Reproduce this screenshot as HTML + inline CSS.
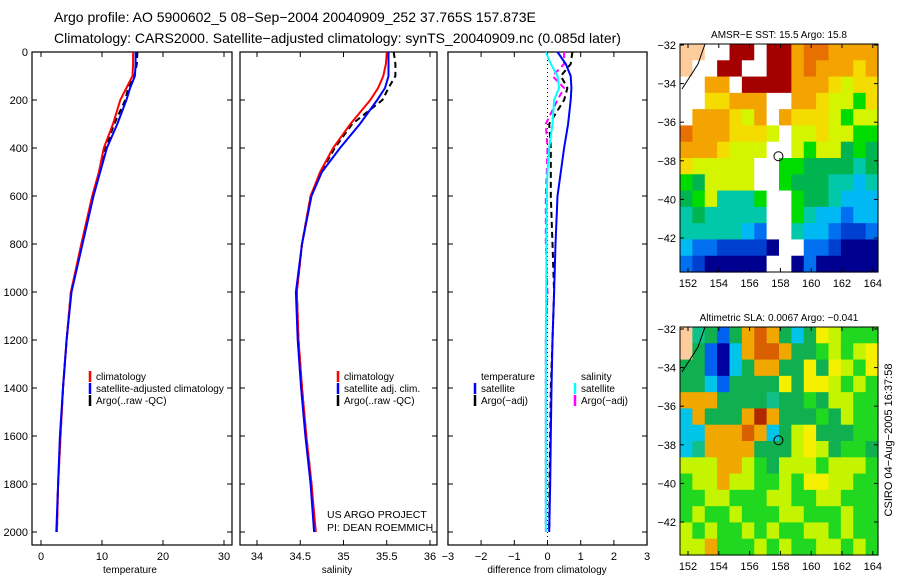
<!DOCTYPE html>
<html><head><meta charset="utf-8"><style>
body{margin:0;background:#fff;}
svg{display:block;font-family:"Liberation Sans",sans-serif;}
</style></head><body>
<svg id="fig" width="900" height="580" viewBox="0 0 900 580">
<text x="54" y="22" font-size="14">Argo profile: AO 5900602_5 08−Sep−2004 20040909_252 37.765S 157.873E</text>
<text x="54" y="43" font-size="14">Climatology: CARS2000. Satellite−adjusted climatology: synTS_20040909.nc (0.085d later)</text>
<text transform="translate(892,440) rotate(-90)" text-anchor="middle" font-size="11">CSIRO 04−Aug−2005 16:37:58</text>
</svg>
<script>
// ---- data ----
const depths = [0,50,100,150,200,300,400,500,600,800,1000,1200,1400,1600,1800,2000];
const tempClim = [15.1,15.1,15.0,14.0,13.0,11.8,10.3,9.5,8.4,6.6,4.9,4.2,3.6,3.2,2.8,2.6];
const tempSat = [15.5,15.5,15.4,14.6,14.0,12.5,10.8,9.7,8.6,6.8,5.0,4.2,3.6,3.1,2.8,2.5];
const tempArgo = [15.8,15.7,15.3,14.3,13.8,12.0,10.6,9.6,8.5,6.7,4.9,4.2,3.6,3.2,2.8,2.6];
const salClim = [35.50,35.49,35.46,35.40,35.31,35.08,34.88,34.73,34.62,34.52,34.46,34.48,34.52,34.57,34.63,34.68];
const salSat = [35.52,35.52,35.52,35.48,35.39,35.19,34.96,34.75,34.63,34.52,34.45,34.47,34.51,34.56,34.62,34.66];
const salArgo = [35.58,35.60,35.60,35.52,35.45,35.10,34.90,34.74,34.62,34.52,34.46,34.48,34.52,34.57,34.63,34.67];
const dTempSat = [0.3,0.55,0.7,0.72,0.7,0.62,0.5,0.4,0.3,0.24,0.2,0.15,0.12,0.1,0.08,0.05];
const dSalSat = [-0.05,0.1,0.3,0.35,0.2,0.15,0.05,0.0,-0.02,-0.03,-0.04,-0.05,-0.05,-0.05,-0.05,-0.05];
const dTempArgo = [0.75,0.7,0.4,0.6,0.5,0.05,0.1,0.1,0.1,0.15,0.2,0.15,0.1,0.08,0.06,0.05];
const dSalArgo = [0.5,0.5,0.15,0.5,0.3,-0.05,0.0,-0.02,-0.05,-0.05,0.0,-0.05,-0.05,-0.05,-0.05,-0.05];
const depthTicks = [0,200,400,600,800,1000,1200,1400,1600,1800,2000];
const tempTicks = [0,10,20,30];
const salTicks = [34,34.5,35,35.5,36];
const diffTicks = [-3,-2,-1,0,1,2,3];
const sstGrid = [
"LLWWRRWRRoOOoooo","LWWRRWWRRoOoooYo","WWooWRRRRoooYyYY","WWYYoooWWooYyyGY",
"WoooYyoWoYYYyGyy","OoooYYYyWyyYyyGG","oooYyyyWWyGyygGg","YyyyyyWWGGggggTg",
"GgyyyyWWGgggTTCT","gGyTTTGWWGggTCCC","TgTTTTTWWGTCCBCC","TTTTTCBWWTCCBbbB",
"CBBbbbbNWWBBbNNN","BbNNNNNWWNBNNNNN"];
const slaGrid = [
"LTgBgOROgCgYyGGG","LgBNCORROggGyGyY","ggBNCgOOggYgYyGY","ggCBggggYgYYyGyG",
"OOOggggTggGgyyGG","COgggODOgggGgyGG","CCOOOROCgyYgggGG","CTOOOOgggyYygGGg",
"yyyOOyGgyyyGyyyG","GyyOyyGGyGYYyyGG","GGyyGGGyyGGyyGGG","GyGGyGGGyyGGGyGG",
"yGyGGyGyGGyyGyGG","yyOGGGyGyGGyyGyG"];
const lonTicks = [152,154,156,158,160,162,164];
const latTicks = [-32,-34,-36,-38,-40,-42];
const argoLon = 157.873, argoLat = -37.765;

const NS="http://www.w3.org/2000/svg";
const svg=document.getElementById('fig');
function mk(tag,attrs,parent){const e=document.createElementNS(NS,tag);for(const k in attrs)e.setAttribute(k,attrs[k]);(parent||svg).appendChild(e);return e;}
function txt(x,y,s,size,anchor,parent){const t=mk('text',{x:x,y:y,'font-size':size,'text-anchor':anchor||'start'},parent);t.textContent=s;return t;}

const Y0=52, PXM=0.24;
const yD=d=>Y0+d*PXM;
const panels=[
 {name:'temperature',x0:32,x1:232,xs:v=>41+6.1*v,ticks:tempTicks,lbl:'temperature',lx:130},
 {name:'salinity',x0:240,x1:437,xs:v=>257+86.5*(v-34),ticks:salTicks,lbl:'salinity',lx:337},
 {name:'difference',x0:448,x1:647,xs:v=>547.5+33.2*v,ticks:diffTicks,lbl:'difference from climatology',lx:547}];
const TOP=52,BOT=545;
panels.forEach((p,i)=>{
 const g=mk('g',{});
 
 
 const fr=mk('rect',{x:p.x0,y:TOP,width:p.x1-p.x0,height:BOT-TOP,fill:'none',stroke:'#000','stroke-width':1.2},g);
 
 
 depthTicks.forEach(d=>{
  mk('line',{x1:p.x0,x2:p.x0+5,y1:yD(d),y2:yD(d),stroke:'#000'},g);
  mk('line',{x1:p.x1,x2:p.x1-5,y1:yD(d),y2:yD(d),stroke:'#000'},g);
  if(i===0){const t=txt(p.x0-4,yD(d)+4,String(d),11,'end',g);
   
   }
 });
 p.ticks.forEach(v=>{const x=p.xs(v);
  mk('line',{x1:x,x2:x,y1:BOT,y2:BOT-5,stroke:'#000'},g);
  mk('line',{x1:x,x2:x,y1:TOP,y2:TOP+5,stroke:'#000'},g);
  const t=txt(x,BOT+15,String(v).replace('-','−'),11,'middle',g);
  
  });
 const al=txt(p.lx,BOT+28,p.lbl,10,'middle',g);
 
 
});
function line(p,vals,color,dash,name,w){
 const pts=vals.map((v,k)=>p.xs(v).toFixed(1)+','+yD(depths[k]).toFixed(1)).join(' ');
 const a={points:pts,fill:'none',stroke:color,'stroke-width':w||2};
 if(dash)a['stroke-dasharray']=dash;
 const e=mk('polyline',a);
 
 
}
line(panels[0],tempArgo,'#000','6,4','temp-argo-line');
line(panels[0],tempClim,'#f00',null,'temp-climatology-line');
line(panels[0],tempSat,'#00f',null,'temp-satellite-line');
line(panels[1],salArgo,'#000','6,4','sal-argo-line');
line(panels[1],salClim,'#f00',null,'sal-climatology-line');
line(panels[1],salSat,'#00f',null,'sal-satellite-line');
const z=mk('line',{x1:547.5,x2:547.5,y1:TOP,y2:BOT,stroke:'#000','stroke-dasharray':'1,3'});


line(panels[2],dTempArgo,'#000','6,4','diff-temp-argo-line');
line(panels[2],dSalArgo,'#f0f','6,4','diff-sal-argo-line');
line(panels[2],dSalSat,'#0ff',null,'diff-sal-satellite-line');
line(panels[2],dTempSat,'#00f',null,'diff-temp-satellite-line');

function legend(x,y,items,name){
 const g=mk('g',{});
 
 
 items.forEach((it,k)=>{const yy=y+k*12;
  if(it[1])mk('line',{x1:x,x2:x,y1:yy-9,y2:yy+2,stroke:it[1],'stroke-width':2.5},g);
  txt(x+6,yy,it[0],10,'start',g);});
}
legend(90,380,[['climatology','#f00'],['satellite-adjusted climatology','#00f'],['Argo(..raw -QC)','#000']],'temp-legend');
legend(338,380,[['climatology','#f00'],['satellite adj. clim.','#00f'],['Argo(..raw -QC)','#000']],'sal-legend');
legend(475,380,[['temperature',null],['satellite','#00f'],['Argo(−adj)','#000']],'diff-temp-legend');
legend(575,380,[['salinity',null],['satellite','#0ff'],['Argo(−adj)','#f0f']],'diff-sal-legend');
txt(327,518,'US ARGO PROJECT',10.5);
txt(327,531,'PI: DEAN ROEMMICH',10.5);

// maps
const sstCol={L:'#fccc9c',W:'#ffffff',R:'#a40000',O:'#e87000',o:'#f4a400',Y:'#f4dc00',y:'#d4f400',G:'#00dc00',g:'#00b450',T:'#00c8a8',C:'#00b8f4',B:'#0070f0',b:'#0040d0',N:'#000090'};
const slaCol={L:'#fccc9c',T:'#10c088',g:'#10b050',G:'#20d820',y:'#c4f400',Y:'#f4f000',O:'#f0a800',R:'#d86000',D:'#b02800',C:'#00c4e8',B:'#0060f0',N:'#0000a0'};
function map(x0,y0,y32,grid,cols,title,name){
 const W=198,H=228;
 const g=mk('g',{});
 
 
 const lonX=l=>688+(l-152)*15.4;
 const latY=l=>y32+(-32-l)*19.3;
 const nr=grid.length,nc=grid[0].length,cw=W/nc,ch=H/nr;
 grid.forEach((row,r)=>{for(let c=0;c<nc;c++){
  mk('rect',{x:x0+c*cw,y:y0+r*ch,width:cw+0.6,height:ch+0.6,fill:cols[row[c]]},g);}});
 mk('path',{d:`M${x0+25},${y0} L${x0+18},${y0+20} L${x0+2},${y0+45}`,fill:'none',stroke:'#000','stroke-width':1},g);
 mk('rect',{x:x0,y:y0,width:W,height:H,fill:'none',stroke:'#000','stroke-width':1},g);
 lonTicks.forEach(l=>{const x=lonX(l);
  mk('line',{x1:x,x2:x,y1:y0+H,y2:y0+H-4,stroke:'#000'},g);
  mk('line',{x1:x,x2:x,y1:y0,y2:y0+4,stroke:'#000'},g);
  txt(x,y0+H+15,String(l),11,'middle',g);});
 latTicks.forEach(l=>{const y=latY(l);
  mk('line',{x1:x0,x2:x0+4,y1:y,y2:y,stroke:'#000'},g);
  mk('line',{x1:x0+W,x2:x0+W-4,y1:y,y2:y,stroke:'#000'},g);
  txt(x0-4,y+4,String(l).replace('-','−'),11,'end',g);});
 const m=mk('circle',{cx:lonX(argoLon),cy:latY(argoLat),r:4.5,fill:'none',stroke:'#000','stroke-width':1},g);
 
 
 txt(x0+W/2,y0-6,title,10,'middle',g);
}
map(680,44,45,sstGrid,sstCol,'AMSR−E SST: 15.5 Argo: 15.8','sst-map');
map(680,327,329,slaGrid,slaCol,'Altimetric SLA: 0.0067 Argo: −0.041','sla-map');
</script>
</body></html>
